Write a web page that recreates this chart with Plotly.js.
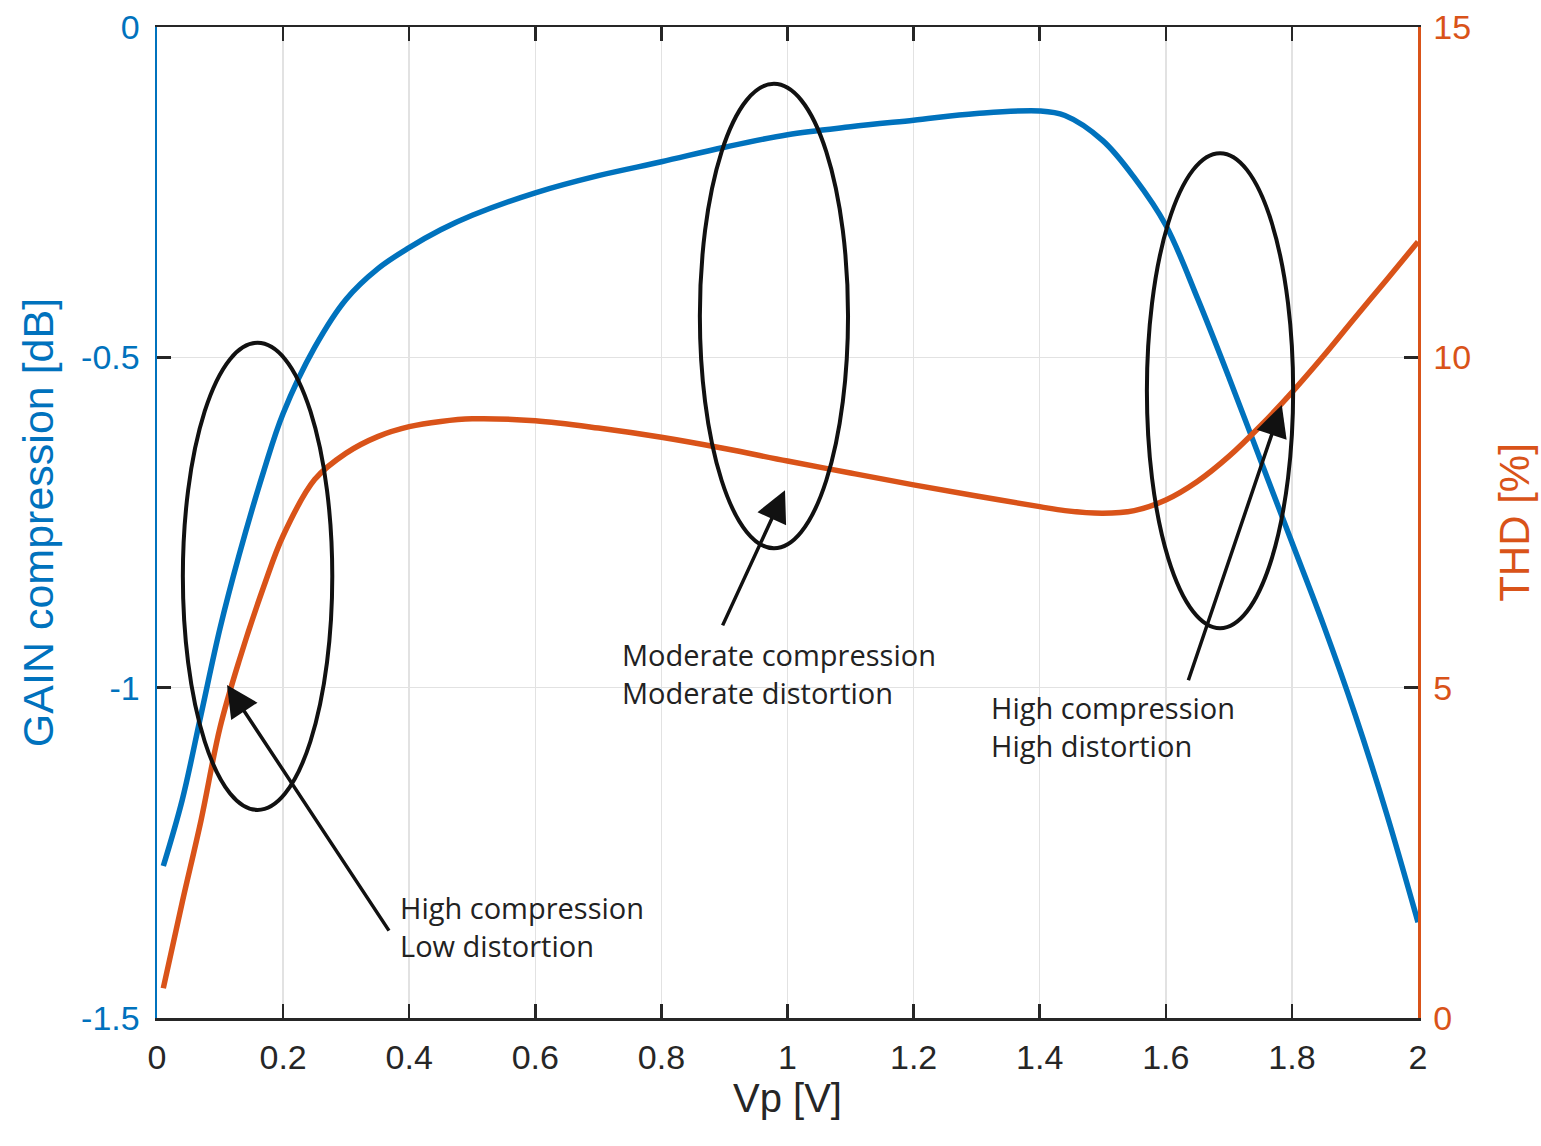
<!DOCTYPE html>
<html>
<head>
<meta charset="utf-8">
<script src="https://cdn.plot.ly/plotly-3.0.1.min.js"></script>
<style>html,body{margin:0;padding:0;background:#fff;}#chart{width:1541px;height:1146px;}</style>
</head>
<body>
<div id="chart"></div>
<script>
// Vp [V] sample points
const vp = [0.01, 0.04, 0.07, 0.1, 0.13, 0.17, 0.2, 0.25, 0.3, 0.35, 0.4, 0.45, 0.5, 0.6, 0.7, 0.8, 0.9, 1.0, 1.1, 1.2, 1.3, 1.4, 1.44, 1.5, 1.55, 1.6, 1.65, 1.7, 1.75, 1.8, 1.85, 1.9, 1.95, 2.0];
// GAIN compression [dB]
const gain = [-1.27, -1.17, -1.04, -0.91, -0.80, -0.67, -0.585, -0.485, -0.412, -0.366, -0.334, -0.307, -0.285, -0.251, -0.225, -0.204, -0.182, -0.163, -0.151, -0.141, -0.131, -0.127, -0.134, -0.172, -0.228, -0.300, -0.41, -0.53, -0.655, -0.78, -0.905, -1.04, -1.19, -1.355];
// THD [%]
const thd = [0.45, 1.75, 3.0, 4.4, 5.4, 6.55, 7.3, 8.15, 8.55, 8.8, 8.95, 9.03, 9.07, 9.04, 8.93, 8.79, 8.62, 8.43, 8.25, 8.07, 7.9, 7.74, 7.68, 7.64, 7.68, 7.84, 8.12, 8.5, 8.96, 9.47, 10.02, 10.6, 11.17, 11.75];

const xTicks = [0, 0.2, 0.4, 0.6, 0.8, 1, 1.2, 1.4, 1.6, 1.8, 2];
const xTickText = ['0', '0.2', '0.4', '0.6', '0.8', '1', '1.2', '1.4', '1.6', '1.8', '2'];
const yTicks = [-1.5, -1, -0.5, 0];
const yTickText = ['-1.5', '-1', '-0.5', '0'];
const y2Ticks = [0, 5, 10, 15];
const y2TickText = ['0', '5', '10', '15'];

const labels = ['High compression<br>Low distortion', 'Moderate compression<br>Moderate distortion', 'High compression<br>High distortion'];

const BLUE = '#0072BD';
const ORANGE = '#D95319';
const DARK = '#262626';
const AXFONT = 'Liberation Sans, Arial, sans-serif';
const NOTEFONT = 'Open Sans, sans-serif';

const traces = [
  {x: vp, y: gain, type: 'scatter', mode: 'lines', line: {color: BLUE, width: 5.5, shape: 'spline', smoothing: 1}, yaxis: 'y', hoverinfo: 'skip'},
  {x: vp, y: thd, type: 'scatter', mode: 'lines', line: {color: ORANGE, width: 5.5, shape: 'spline', smoothing: 1}, yaxis: 'y2', hoverinfo: 'skip'}
];

const ellipse = (x0, x1, y0, y1) => ({type: 'circle', xref: 'x', yref: 'y', x0: x0, x1: x1, y0: y0, y1: y1, line: {color: '#111', width: 4}});

const arrow = (x, y, ax, ay) => ({x: x, y: y, ax: ax, ay: ay, xref: 'x', yref: 'y', axref: 'x', ayref: 'y', text: '', showarrow: true, arrowhead: 2, arrowsize: 1.8, arrowwidth: 3.5, arrowcolor: '#111', standoff: 0, startstandoff: 0});

const note = (x, y, t) => ({x: x, y: y, xref: 'x', yref: 'y', text: t, showarrow: false, xanchor: 'left', yanchor: 'middle', align: 'left', font: {family: NOTEFONT, size: 29, color: '#222'}});

const layout = {
  width: 1541, height: 1146,
  margin: {l: 157, r: 123, t: 27, b: 128},
  paper_bgcolor: '#fff', plot_bgcolor: '#fff',
  showlegend: false,
  xaxis: {
    range: [0, 2], tickvals: xTicks, ticktext: xTickText,
    showgrid: true, gridcolor: '#e2e2e2', gridwidth: 1.5, zeroline: false,
    showline: true, linecolor: DARK, linewidth: 2.5, mirror: 'ticks',
    ticks: 'inside', ticklen: 14, tickwidth: 2.5, tickcolor: DARK,
    tickfont: {family: AXFONT, size: 34, color: DARK}, ticklabelstandoff: 8,
    title: {text: 'Vp [V]', font: {family: AXFONT, size: 40, color: DARK}, standoff: 2}
  },
  yaxis: {
    range: [-1.5, 0], tickvals: yTicks, ticktext: yTickText,
    showgrid: true, gridcolor: '#e2e2e2', gridwidth: 1.5, zeroline: false,
    showline: true, linecolor: BLUE, linewidth: 2.5,
    ticks: 'inside', ticklen: 14, tickwidth: 2.5, tickcolor: DARK,
    tickfont: {family: AXFONT, size: 34, color: BLUE}, ticklabelstandoff: 8,
    title: {text: 'GAIN compression [dB]', font: {family: AXFONT, size: 43, color: BLUE}, standoff: 14}
  },
  yaxis2: {
    range: [0, 15], tickvals: y2Ticks, ticktext: y2TickText, overlaying: 'y', side: 'right',
    showgrid: false, zeroline: false,
    showline: true, linecolor: ORANGE, linewidth: 2.5,
    ticks: 'inside', ticklen: 14, tickwidth: 2.5, tickcolor: DARK,
    tickfont: {family: AXFONT, size: 34, color: ORANGE}, ticklabelstandoff: 6,
    title: {text: 'THD [%]', font: {family: AXFONT, size: 42, color: ORANGE}, standoff: 30}
  },
  shapes: [
    ellipse(0.041, 0.278, -0.478, -1.185),
    ellipse(0.861, 1.096, -0.086, -0.789),
    ellipse(1.570, 1.802, -0.191, -0.910)
  ],
  annotations: [
    arrow(0.111, -0.996, 0.3695, -1.370),
    arrow(0.996, -0.701, 0.896, -0.908),
    arrow(1.784, -0.572, 1.635, -0.991),
    note(0.383, -1.361, labels[0]),
    note(0.735, -0.9785, labels[1]),
    note(1.319, -1.0595, labels[2])
  ]
};

Plotly.newPlot('chart', traces, layout, {displayModeBar: false, staticPlot: true});
</script>
</body>
</html>
